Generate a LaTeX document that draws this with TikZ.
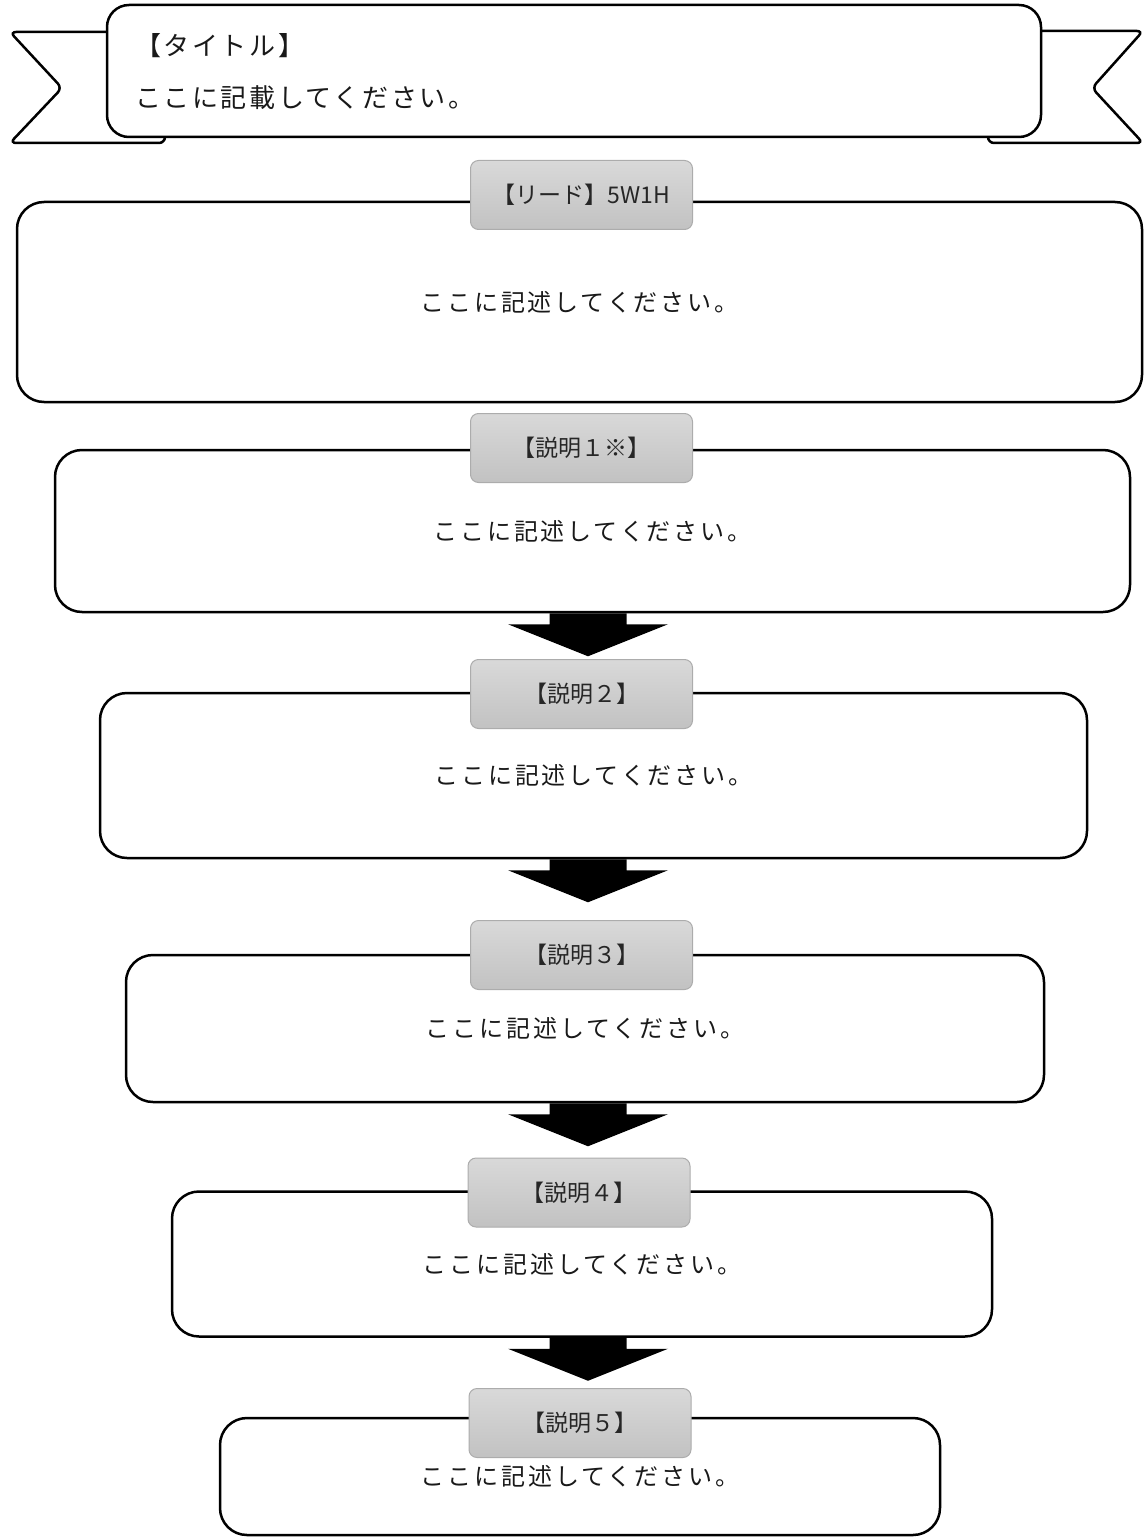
\documentclass[tikz,border=0pt]{standalone}
\usepackage{fontspec}
\setmainfont{Noto Sans CJK JP}
\newfontfamily\bodyfont{Noto Sans CJK JP}[LetterSpace=12]
\newfontfamily\headfont{Noto Sans CJK JP}[LetterSpace=10]
\usetikzlibrary{calc}

\tikzset{
  panel/.style={draw, line width=2.5pt, rounded corners=27pt, fill=white, inner sep=0pt,
    font=\bodyfont\fontsize{24}{24}\selectfont, text=black!90},
  tag/.style={draw=gray!65, line width=1pt, rounded corners=8pt, top color=gray!30, bottom color=gray!48,
    minimum width=222pt, minimum height=69pt, inner sep=0pt, font=\fontsize{23}{23}\selectfont, text=black!85},
  titletext/.style={anchor=west, inner sep=0pt, font=\headfont\fontsize{26}{26}\selectfont, text=black!90},
}

% block arrow hanging under a panel
\newcommand{\flowarrow}[1]{%
  \fill let \p0=(ax), \p1=(#1.south) in
    (\x0-38.5pt,\y1) -- (\x0+38.5pt,\y1) -- (\x0+38.5pt,\y1-11pt) -- (\x0+80pt,\y1-11pt)
    -- (\x0,\y1-43pt) -- (\x0-80pt,\y1-11pt) -- (\x0-38.5pt,\y1-11pt) -- cycle;}

\begin{document}
\begin{tikzpicture}[x=1pt,y=-1pt]
\useasboundingbox (0,0) rectangle (1143,1538);
\coordinate (ax) at (588,0);

% title ribbon
\draw[line width=2.5pt, fill=white, rounded corners=6pt] (140,32) -- (10,32) -- (62,88) -- (10,143) -- (165,143) -- (165,110);
\draw[line width=2.5pt, fill=white, rounded corners=6pt] (1010,31) -- (1143,31) -- (1092,88) -- (1143,143) -- (988,143) -- (988,110);
\node[panel, rounded corners=22pt, minimum width=934pt, minimum height=132pt] (title) at (574,71) {};
\node[titletext] (titlehead) at (135,46) {【タイトル】};
\node[titletext] (titlebody) at (135,98) {ここに記載してください。};

% panels
\node[panel, minimum width=1125pt, minimum height=200pt] (lead) at (579.5,302) {ここに記述してください。};
\node[panel, minimum width=1075pt, minimum height=162pt] (b1) at (592.5,531) {ここに記述してください。};
\node[panel, minimum width=987pt, minimum height=165pt] (b2) at (593.5,775.5) {ここに記述してください。};
\node[panel, minimum width=918pt, minimum height=147pt] (b3) at (585,1028.5) {ここに記述してください。};
\node[panel, minimum width=820pt, minimum height=145pt] (b4) at (582,1264) {ここに記述してください。};
\node[panel, minimum width=720pt, minimum height=117pt] (b5) at (580,1476.5) {\raisebox{-4pt}{ここに記述してください。}};

% tags on the top lines
\node[tag] (leadtag) at (581.5,195) {【リード】5W1H};
\node[tag] (tag1) at (581.5,448) {【説明１※】};
\node[tag] (tag2) at (581.5,694) {【説明２】};
\node[tag] (tag3) at (581.5,955) {【説明３】};
\node[tag] (tag4) at (579,1192.5) {【説明４】};
\node[tag] (tag5) at (580,1423) {【説明５】};

% arrows
\flowarrow{b1}
\flowarrow{b2}
\flowarrow{b3}
\flowarrow{b4}

\end{tikzpicture}
\end{document}
